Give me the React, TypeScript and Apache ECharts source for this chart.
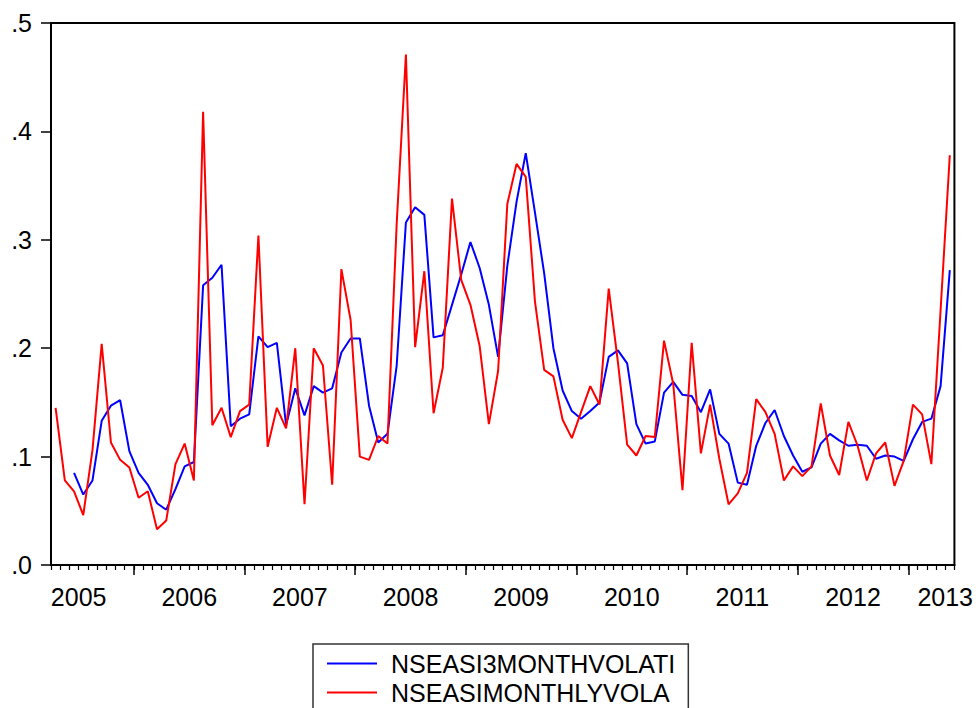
import React, { useEffect, useRef } from "react";
import * as echarts from "echarts";

// Monthly observations: April 2005 .. May 2013 (98 months)
const START_YEAR = 2005;
const START_MONTH = 4;
const N_MONTHS = 98;
const months: string[] = Array.from({ length: N_MONTHS }, (_, i) => {
  const m = START_MONTH - 1 + i;
  const y = START_YEAR + Math.floor(m / 12);
  return `${y}M${String((m % 12) + 1).padStart(2, "0")}`;
});
// month boundaries (start of each month + end of last)
const boundaries: string[] = [...months, "end"];

const yearLabels = ["2005", "2006", "2007", "2008", "2009", "2010", "2011", "2012", "2013"];
const yearLabelBoundary = [3, 15, 27, 39, 51, 63, 75, 87, 97];

const yTicks = [0, 0.1, 0.2, 0.3, 0.4, 0.5];
const yTickLabels = [".0", ".1", ".2", ".3", ".4", ".5"];

const seriesNames = ["NSEASI3MONTHVOLATI", "NSEASIMONTHLYVOLA"];

const vol3m: (number | null)[] = [
  null, null, 0.085, 0.065, 0.078, 0.133, 0.147, 0.152, 0.105, 0.085,
  0.074, 0.057, 0.051, 0.070, 0.091, 0.095, 0.258, 0.265, 0.277, 0.128,
  0.135, 0.139, 0.211, 0.201, 0.205, 0.129, 0.163, 0.138, 0.165, 0.159,
  0.163, 0.196, 0.209, 0.209, 0.147, 0.113, 0.121, 0.184, 0.316, 0.330,
  0.323, 0.210, 0.212, 0.240, 0.268, 0.298, 0.274, 0.240, 0.192, 0.276,
  0.335, 0.380, 0.325, 0.269, 0.200, 0.161, 0.142, 0.135, 0.142, 0.150,
  0.192, 0.198, 0.186, 0.130, 0.112, 0.114, 0.159, 0.169, 0.157, 0.156,
  0.141, 0.162, 0.121, 0.112, 0.076, 0.074, 0.110, 0.131, 0.143, 0.119,
  0.101, 0.086, 0.090, 0.112, 0.121, 0.115, 0.110, 0.111, 0.110, 0.098,
  0.101, 0.100, 0.096, 0.116, 0.132, 0.135, 0.165, 0.272,
];

const volMonthly: number[] = [
  0.145, 0.078, 0.068, 0.046, 0.106, 0.204, 0.113, 0.097, 0.090, 0.062,
  0.068, 0.033, 0.041, 0.093, 0.112, 0.078, 0.418, 0.129, 0.145, 0.118,
  0.142, 0.148, 0.304, 0.109, 0.145, 0.126, 0.200, 0.056, 0.200, 0.184,
  0.074, 0.273, 0.226, 0.100, 0.097, 0.119, 0.112, 0.315, 0.471, 0.201,
  0.271, 0.140, 0.182, 0.338, 0.263, 0.240, 0.202, 0.130, 0.179, 0.333,
  0.370, 0.358, 0.243, 0.180, 0.174, 0.134, 0.117, 0.141, 0.165, 0.148,
  0.255, 0.187, 0.111, 0.101, 0.119, 0.118, 0.207, 0.167, 0.069, 0.205,
  0.103, 0.148, 0.098, 0.056, 0.066, 0.085, 0.153, 0.141, 0.121, 0.078,
  0.091, 0.082, 0.091, 0.149, 0.101, 0.083, 0.132, 0.110, 0.078, 0.103,
  0.113, 0.073, 0.096, 0.148, 0.139, 0.093, 0.235, 0.378,
];

const FONT = "'Liberation Sans', Arial, Helvetica, sans-serif";

export default function App() {
  const ref = useRef<HTMLDivElement>(null);
  useEffect(() => {
    if (!ref.current) return;
    const chart = echarts.init(ref.current, undefined, { renderer: "svg" });
    const labelStyle = { color: "#000", fontFamily: FONT, fontSize: 25 };
    chart.setOption({
      animation: false,
      backgroundColor: "#fff",
      grid: {
        left: 51,
        top: 23,
        right: 19,
        bottom: 143,
        show: true,
        borderColor: "#000",
        borderWidth: 2,
        containLabel: false,
      },
      legend: {
        orient: "vertical",
        left: 313,
        top: 644,
        width: 380,
        height: 90,
        padding: [7, 13, 8, 14],
        itemGap: 4,
        itemWidth: 50,
        itemHeight: 2,
        icon: "rect",
        borderColor: "#333",
        borderWidth: 1.5,
        data: seriesNames,
        textStyle: { ...labelStyle, padding: [0, 0, 0, 9] },
      },
      xAxis: [
        {
          type: "category",
          data: months,
          boundaryGap: true,
          position: "bottom",
          axisLine: { show: true, lineStyle: { color: "#000", width: 2 } },
          axisTick: { show: true, interval: 0, length: 5, lineStyle: { color: "#000", width: 1.2 } },
          axisLabel: { show: false },
          splitLine: { show: false },
        },
        {
          type: "category",
          data: boundaries,
          boundaryGap: false,
          position: "bottom",
          axisLine: { show: false },
          axisTick: {
            show: true,
            length: 10,
            interval: (i: number) => i < months.length && months[i].endsWith("M01"),
            lineStyle: { color: "#000", width: 1.5 },
          },
          axisLabel: {
            show: true,
            ...labelStyle,
            margin: 19,
            interval: (i: number) => yearLabelBoundary.indexOf(i) >= 0,
            formatter: (_v: string, i: number) => {
              const k = yearLabelBoundary.indexOf(i);
              return k >= 0 ? yearLabels[k] : "";
            },
          },
          splitLine: { show: false },
        },
      ],
      yAxis: {
        type: "value",
        min: yTicks[0],
        max: yTicks[yTicks.length - 1],
        interval: 0.1,
        axisLine: { show: true, lineStyle: { color: "#000", width: 2 } },
        axisTick: { show: true, length: 10, lineStyle: { color: "#000", width: 1.5 } },
        axisLabel: {
          ...labelStyle,
          margin: 19,
          formatter: (v: number) => {
            const k = yTicks.findIndex((t) => Math.abs(t - v) < 1e-9);
            return k >= 0 ? yTickLabels[k] : "";
          },
        },
        splitLine: { show: false },
      },
      series: [
        {
          name: seriesNames[0],
          type: "line",
          xAxisIndex: 0,
          yAxisIndex: 0,
          data: vol3m,
          symbol: "none",
          lineStyle: { color: "#0000ff", width: 2 },
          itemStyle: { color: "#0000ff" },
          connectNulls: false,
        },
        {
          name: seriesNames[1],
          type: "line",
          xAxisIndex: 0,
          yAxisIndex: 0,
          data: volMonthly,
          symbol: "none",
          lineStyle: { color: "#ff0000", width: 2 },
          itemStyle: { color: "#ff0000" },
        },
      ],
    });
    return () => chart.dispose();
  }, []);
  return (
    <div
      ref={ref}
      style={{ position: "absolute", left: 0, top: 0, width: 976, height: 708 }}
    />
  );
}
